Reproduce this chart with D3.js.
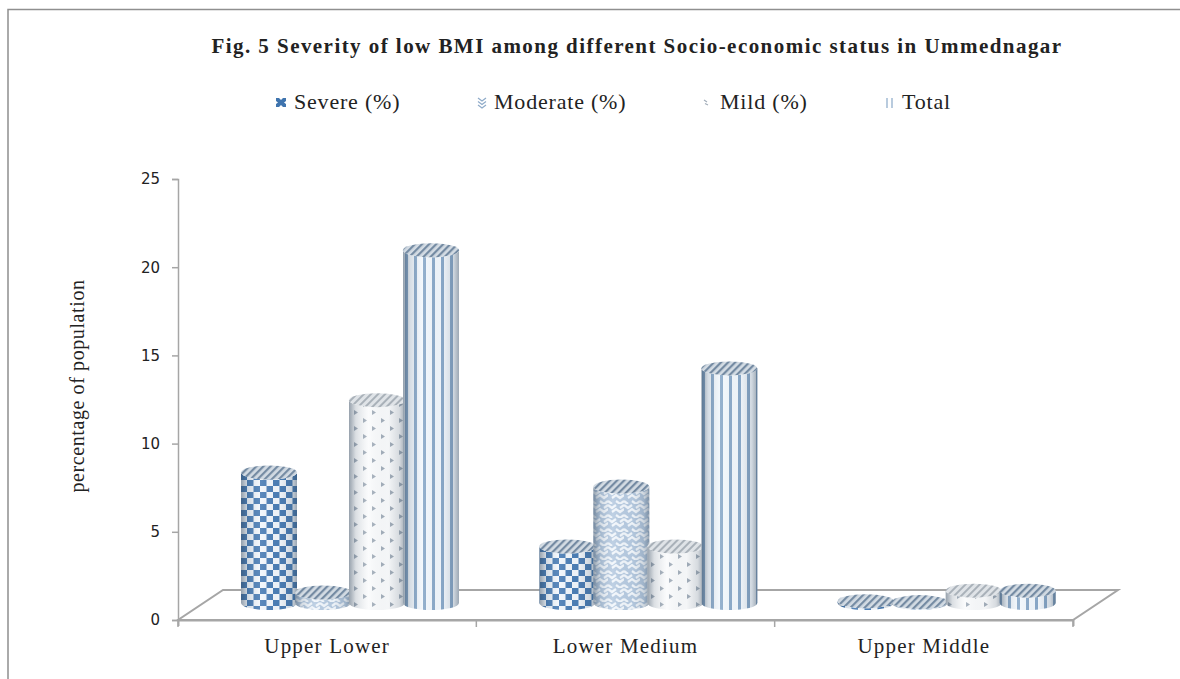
<!DOCTYPE html>
<html lang="en">
<head>
    <meta charset="UTF-8">
    <title>Fig. 5</title>
    <script src="https://d3js.org/d3.v7.min.js"></script>
    <style>
        html, body { margin: 0; background: #fff; }
        svg { display: block; }
        text { font-family: "Liberation Serif", serif; fill: #222; }
    </style>
</head>
<body>
<svg width="1180" height="679"></svg>

<script>
    var categories = ['Upper Lower', 'Lower Medium', 'Upper Middle'];
    var seriesNames = ['Severe (%)', 'Moderate (%)', 'Mild (%)', 'Total'];
    var severe = [7.4, 3.2, 0.1];
    var moderate = [0.6, 6.6, 0.05];
    var mild = [11.5, 3.2, 0.7];
    var total = [20, 13.3, 0.7];
    var yTicks = [0, 5, 10, 15, 20, 25];

    var seriesValues = [severe, moderate, mild, total];
    var patternIds = ['pSevere', 'pModerate', 'pMild', 'pTotal'];

    var svg = d3.select('svg');
    var defs = svg.append('defs');

    var x0 = d3.scaleBand().domain(categories).range([178, 1073]);
    var y = d3.scaleLinear().domain([0, 25]).range([620, 179]);
    var x1 = d3.scaleBand().domain(seriesNames).range([0, 216]).padding(0);

    // floor depth of the fake 3d plot
    var depthX = 45, depthY = 30;
    var rx = 28, ry = 7;

    // patterns
    function pattern(id, w, h, bg) {
        var p = defs.append('pattern').attr('id', id)
            .attr('patternUnits', 'userSpaceOnUse')
            .attr('width', w).attr('height', h);
        p.append('rect').attr('width', w).attr('height', h).attr('fill', bg);
        return p;
    }

    var pS = pattern('pSevere', 13, 12, '#f2f7fc');
    pS.append('rect').attr('x', 0).attr('y', 0).attr('width', 6.5).attr('height', 6).attr('fill', '#4a7db5');
    pS.append('rect').attr('x', 6.5).attr('y', 6).attr('width', 6.5).attr('height', 6).attr('fill', '#4a7db5');

    // herringbone: short strokes, each row broken at a different place
    var pM = pattern('pModerate', 16, 14, '#b7cbe1');
    pM.append('path').attr('d', 'M0 1L4 4L8 1M12 4L16 1M4 8L8 5L12 8L16 5M0 5L0 5M0 11L4 14M8 11L12 14L16 11M4 8L4 8')
        .attr('fill', 'none').attr('stroke', '#f2f7fc').attr('stroke-width', 2.2);

    var pL = pattern('pMild', 18, 16, '#fafbfc');
    pL.append('path').attr('d', 'M3 2L7 4.5L3 7Z').attr('fill', '#a3aeba');
    pL.append('path').attr('d', 'M12 10L16 12.5L12 15Z').attr('fill', '#a3aeba');

    var pT = pattern('pTotal', 9, 9, '#f3f8fd');
    pT.append('rect').attr('x', 0).attr('width', 3).attr('height', 9).attr('fill', '#8aa9c9');

    var pTop = pattern('pTop', 5, 5, '#d3dbe3');
    pTop.attr('patternTransform', 'rotate(45)');
    pTop.append('rect').attr('width', 2.2).attr('height', 5).attr('fill', '#748ba3');

    var pTopLight = pattern('pTopLight', 5, 5, '#dfe3e7');
    pTopLight.attr('patternTransform', 'rotate(45)');
    pTopLight.append('rect').attr('width', 2).attr('height', 5).attr('fill', '#a9b1b9');

    // rounding shade across each cylinder
    var shade = defs.append('linearGradient').attr('id', 'shade');
    [[0, '#33475c', 0.5], [0.12, '#33475c', 0.16], [0.35, '#ffffff', 0.1], [0.7, '#33475c', 0.03], [0.9, '#33475c', 0.18], [1, '#33475c', 0.45]]
        .forEach(function (s) {
            shade.append('stop').attr('offset', s[0]).attr('stop-color', s[1]).attr('stop-opacity', s[2]);
        });

    // the reference is a soft jpeg, so blur the marks a little
    defs.append('filter').attr('id', 'soft')
        .append('feGaussianBlur').attr('stdDeviation', 0.5);

    // outer frame of the figure
    svg.append('path').attr('d', 'M8 679V9.5H1180').attr('fill', 'none').attr('stroke', '#8f8f8f').attr('stroke-width', 1.5);

    // title
    svg.append('text').attr('x', 637).attr('y', 53).attr('text-anchor', 'middle')
        .attr('font-size', 21).attr('font-weight', 'bold').attr('letter-spacing', '1.45px')
        .text('Fig. 5 Severity of low BMI  among different Socio-economic status in Ummednagar');

    // floor
    var floorY = y(0), r = x0.range();
    svg.append('path')
        .attr('d', d3.line()([[r[0], floorY], [r[1], floorY], [r[1] + depthX, floorY - depthY], [r[0] + depthX, floorY - depthY]]) + 'Z')
        .attr('fill', 'none').attr('stroke', '#a6a6a6').attr('stroke-width', 2);

    // axes
    var yAxis = svg.append('g').attr('transform', 'translate(178,0)')
        .call(d3.axisLeft(y).tickValues(yTicks).tickSize(6).tickPadding(12));
    yAxis.selectAll('path,line').attr('stroke', '#a6a6a6').attr('stroke-width', 1.5);
    yAxis.selectAll('text').style('font-family', '"DejaVu Sans", sans-serif').attr('font-size', 15);

    var xAxis = svg.append('g').attr('transform', 'translate(0,620)')
        .call(d3.axisBottom(x0).tickSize(6).tickSizeOuter(6).tickPadding(12));
    xAxis.selectAll('path').attr('stroke', '#a6a6a6').attr('stroke-width', 2);
    xAxis.selectAll('.tick line').attr('stroke', 'none');
    xAxis.selectAll('text').attr('font-size', 21).attr('letter-spacing', '1.2px');
    x0.domain().concat(['end']).forEach(function (c, i) {
        var tx = r[0] + i * x0.bandwidth();
        xAxis.append('line').attr('x1', tx).attr('x2', tx).attr('y1', 0).attr('y2', 7)
            .attr('stroke', '#a6a6a6').attr('stroke-width', 1.5);
    });

    // y title
    svg.append('text').attr('transform', 'translate(84,386) rotate(-90)')
        .attr('text-anchor', 'middle').attr('font-size', 20).attr('letter-spacing', '0.6px')
        .text('percentage of population');

    // cylinders
    function cylPath(cx, top, base) {
        return 'M' + (cx - rx) + ' ' + top +
            'V' + base +
            'A' + rx + ' ' + ry + ' 0 0 0 ' + (cx + rx) + ' ' + base +
            'V' + top +
            'A' + rx + ' ' + ry + ' 0 0 1 ' + (cx - rx) + ' ' + top + 'Z';
    }

    var offsetX = 64, offsetY = -17;
    var marks = svg.append('g').attr('filter', 'url(#soft)');
    categories.forEach(function (cat, ci) {
        seriesNames.forEach(function (name, si) {
            var v = seriesValues[si][ci];
            var cx = x0(cat) + x1(name) + x1.bandwidth() / 2 + offsetX;
            var base = y(0) + offsetY, top = y(v) + offsetY;
            var g = marks.append('g');
            g.append('path').attr('d', cylPath(cx, top, base)).attr('fill', 'url(#' + patternIds[si] + ')');
            g.append('path').attr('d', cylPath(cx, top, base)).attr('fill', 'url(#shade)');
            g.append('ellipse').attr('cx', cx).attr('cy', top).attr('rx', rx).attr('ry', ry)
                .attr('fill', si === 2 ? 'url(#pTopLight)' : 'url(#pTop)');
        });
    });

    // legend
    var legendX = [276, 477, 703, 885];
    var legendGlyph = [
        {d: 'M0 1H3L5 3L7 1H10V4L8 5.5L10 7V10H7L5 8L3 10H0V7L2 5.5L0 4Z', fill: '#3f74ae', stroke: 'none'},
        {d: 'M1 1L5 4L9 1M1 4.5L5 7.5L9 4.5M1 8L5 11L9 8', fill: 'none', stroke: '#8fabc9'},
        {d: 'M1 3L4 5M5 8L2 6.5', fill: 'none', stroke: '#a3aeba'},
        {d: 'M2 1V11M7 1V11', fill: 'none', stroke: '#8aa9c9'}
    ];
    var legendText = [294, 494, 720, 902];
    seriesNames.forEach(function (name, i) {
        var legend = svg.append('g');
        legend.append('path').attr('transform', 'translate(' + legendX[i] + ',97)')
            .attr('d', legendGlyph[i].d).attr('fill', legendGlyph[i].fill)
            .attr('stroke', legendGlyph[i].stroke).attr('stroke-width', 1.2);
        legend.append('text').attr('x', legendText[i]).attr('y', 109)
            .attr('font-size', 22).attr('letter-spacing', '0.8px').text(name);
    });
</script>
</body>
</html>
